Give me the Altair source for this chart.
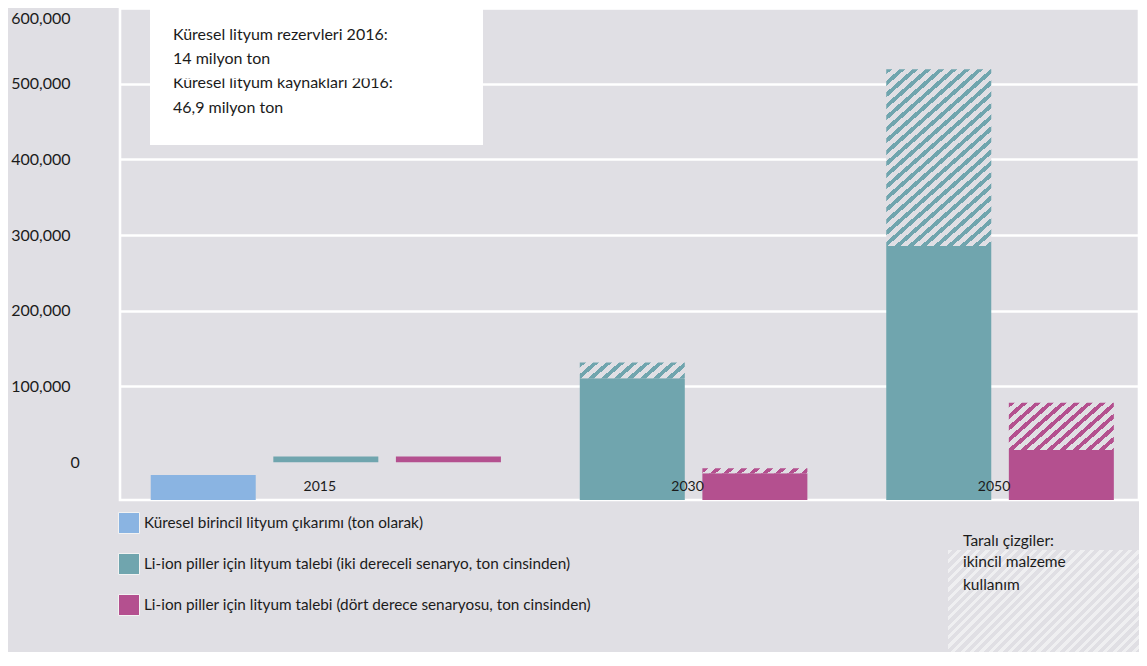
import altair as alt
import pandas as pd

# ---------------- data ----------------
years = ["2015", "2030", "2050"]
series = [
    "Küresel birincil lityum çıkarımı (ton olarak)",
    "Li-ion piller için lityum talebi (iki dereceli senaryo, ton cinsinden)",
    "Li-ion piller için lityum talebi (dört derece senaryosu, ton cinsinden)",
]
series_colors = ["#8ab4e2", "#70a5ae", "#b4508f"]

# one entry per bar: year, series index, bottom, top of solid part, top incl. secondary-material part
bar_year = ["2015", "2015", "2015", "2030", "2030", "2050", "2050"]
bar_series = [0, 1, 2, 1, 2, 1, 2]
bar_base = [-50000, 0, 0, -50000, -50000, -50000, -50000]
bar_primary = [-17000, 7500, 7500, 111000, -14500, 285500, 16000]
bar_total = [None, None, None, 131500, -8000, 519000, 78500]

y_ticks = [0, 100000, 200000, 300000, 400000, 500000, 600000]
y_domain = [-50000, 600000]

annotation_lines = [
    "Küresel lityum rezervleri 2016:",
    "14 milyon ton",
    "Küresel lityum kaynakları 2016:",
    "46,9 milyon ton",
]
hatch_note = ["Taralı çizgiler:", "ikincil malzeme", "kullanım"]

# ---------------- style / layout ----------------
BG = "#e0dfe4"
INK = "#1b1b1b"
FONT = "Lato"
PLOT_W, PLOT_H = 1019, 492
PAD_L, PAD_B = 112, 152
BAR_W = 105
N_SLOTS = 15


def slot_of(year, s):
    return 5 * years.index(year) + 2 * s


def hatch_gradient(color, w, h, a=13.0, b=11.5, frac=0.45, bg=BG):
    """Diagonal stripes ("/") with horizontal period a and vertical period b px."""
    p, q = w / a, h / b
    k = (p + q) / (p * p + q * q)
    n_per = p + q
    stops = []
    i = 0
    while i < n_per:
        o0 = round(min(i / n_per, 1), 5)
        o1 = round(min((i + frac) / n_per, 1), 5)
        o2 = round(min((i + 1) / n_per, 1), 5)
        stops += [
            alt.GradientStop(offset=o0, color=color),
            alt.GradientStop(offset=o1, color=color),
            alt.GradientStop(offset=o1, color=bg),
            alt.GradientStop(offset=o2, color=bg),
        ]
        i += 1
    return alt.LinearGradient(gradient="linear", stops=stops, x1=0, y1=0, x2=k * p, y2=k * q)


solid_df = pd.DataFrame({
    "year": bar_year,
    "series": [series[s] for s in bar_series],
    "slot": [slot_of(y, s) for y, s in zip(bar_year, bar_series)],
    "start": bar_base,
    "end": bar_primary,
})

x_enc = alt.X(
    "slot:O",
    scale=alt.Scale(domain=list(range(N_SLOTS)), paddingInner=0, paddingOuter=0.8125, align=0.528),
    axis=None,
)
y_scale = alt.Scale(domain=y_domain, nice=False, zero=False)
y_axis = alt.Axis(
    values=y_ticks, format=",d", title=None, domain=False, ticks=False,
    labelPadding=50, labelFont=FONT, labelFontSize=16, labelColor=INK,
    gridColor="white", gridWidth=2.6,
    gridOpacity={"condition": {"test": "datum.value === 0", "value": 0}, "value": 1},
    labelBaseline={"condition": {"test": "datum.value === 600000", "value": "top"}, "value": "middle"},
    labelOffset={"condition": {"test": "datum.value === 600000", "value": 2}, "value": 0},
    labelAlign={"condition": {"test": "datum.value === 0", "value": "left"}, "value": "right"},
)

solid = alt.Chart(solid_df).mark_bar(width=BAR_W).encode(
    x=x_enc,
    y=alt.Y("start:Q", scale=y_scale, axis=y_axis),
    y2="end:Q",
    color=alt.Color(
        "series:N",
        scale=alt.Scale(domain=series, range=series_colors),
        legend=alt.Legend(
            orient="none", legendX=-2, legendY=504, title=None, direction="vertical",
            symbolType="square", symbolSize=441, symbolStrokeColor="#f2f2f2", symbolStrokeWidth=1,
            labelFont=FONT, labelFontSize=15.3, labelColor=INK, labelOffset=4, labelLimit=0,
            rowPadding=15, padding=0,
        ),
    ),
)

px_per_t = PLOT_H / (y_domain[1] - y_domain[0])
hatch_layers = []
for yv, s, lo, hi in zip(bar_year, bar_series, bar_primary, bar_total):
    if hi is None:
        continue
    dfh = pd.DataFrame({"slot": [slot_of(yv, s)], "start": [lo], "end": [hi]})
    grad = hatch_gradient(series_colors[s], BAR_W, (hi - lo) * px_per_t)
    hatch_layers.append(
        alt.Chart(dfh).mark_bar(width=BAR_W, fill=grad).encode(
            x=x_enc, y=alt.Y("start:Q", scale=y_scale), y2="end:Q"
        )
    )

# year labels, centred under each year's group of bars
label_rows = []
for yv in years:
    slots = [slot_of(y2, s) for y2, s in zip(bar_year, bar_series) if y2 == yv]
    label_rows.append({"year": yv, "slot": (min(slots) + max(slots)) // 2})
year_text = alt.Chart(pd.DataFrame(label_rows)).mark_text(
    font=FONT, fontSize=14, color=INK, dx=-6, baseline="middle"
).encode(x=x_enc, y=alt.value(479), text="year:N")

one = pd.DataFrame({"k": [0]})

# annotation box top-left
box = alt.Chart(one).mark_rect(color="white").encode(
    x=alt.value(30), x2=alt.value(363), y=alt.value(0), y2=alt.value(137)
)
ann_layers = []
for line, yy in zip(annotation_lines, [27, 50.5, 75, 99.5]):
    ann_layers.append(
        alt.Chart(pd.DataFrame({"t": [line]})).mark_text(
            font=FONT, fontSize=16, color=INK, align="left", baseline="middle"
        ).encode(x=alt.value(53), y=alt.value(yy), text="t:N")
    )
mask = alt.Chart(one).mark_rect(color="white").encode(
    x=alt.value(45), x2=alt.value(300), y=alt.value(62), y2=alt.value(70.5)
)

# hatched note box bottom-right
note_box = alt.Chart(one).mark_rect(
    fill=hatch_gradient("#efeff1", 191, 102, a=9.5, b=9.5, frac=0.45)
).encode(x=alt.value(828), x2=alt.value(1019), y=alt.value(542), y2=alt.value(644))
note_layers = []
for line, yy in zip(hatch_note, [533, 553.5, 577]):
    note_layers.append(
        alt.Chart(pd.DataFrame({"t": [line]})).mark_text(
            font=FONT, fontSize=15.5, color=INK, align="left", baseline="middle"
        ).encode(x=alt.value(843), y=alt.value(yy), text="t:N")
    )

chart = alt.layer(
    solid, *hatch_layers, year_text, box, *ann_layers, mask, note_box, *note_layers
).properties(
    width=PLOT_W,
    height=PLOT_H,
    padding={"left": PAD_L, "top": 0, "right": 0, "bottom": PAD_B},
    autosize=alt.AutoSizeParams(type="none"),
    background=BG,
).configure(font=FONT).configure_view(stroke="white", strokeWidth=2.6)

chart.save("out.html", embed_options={"renderer": "svg", "actions": False})
